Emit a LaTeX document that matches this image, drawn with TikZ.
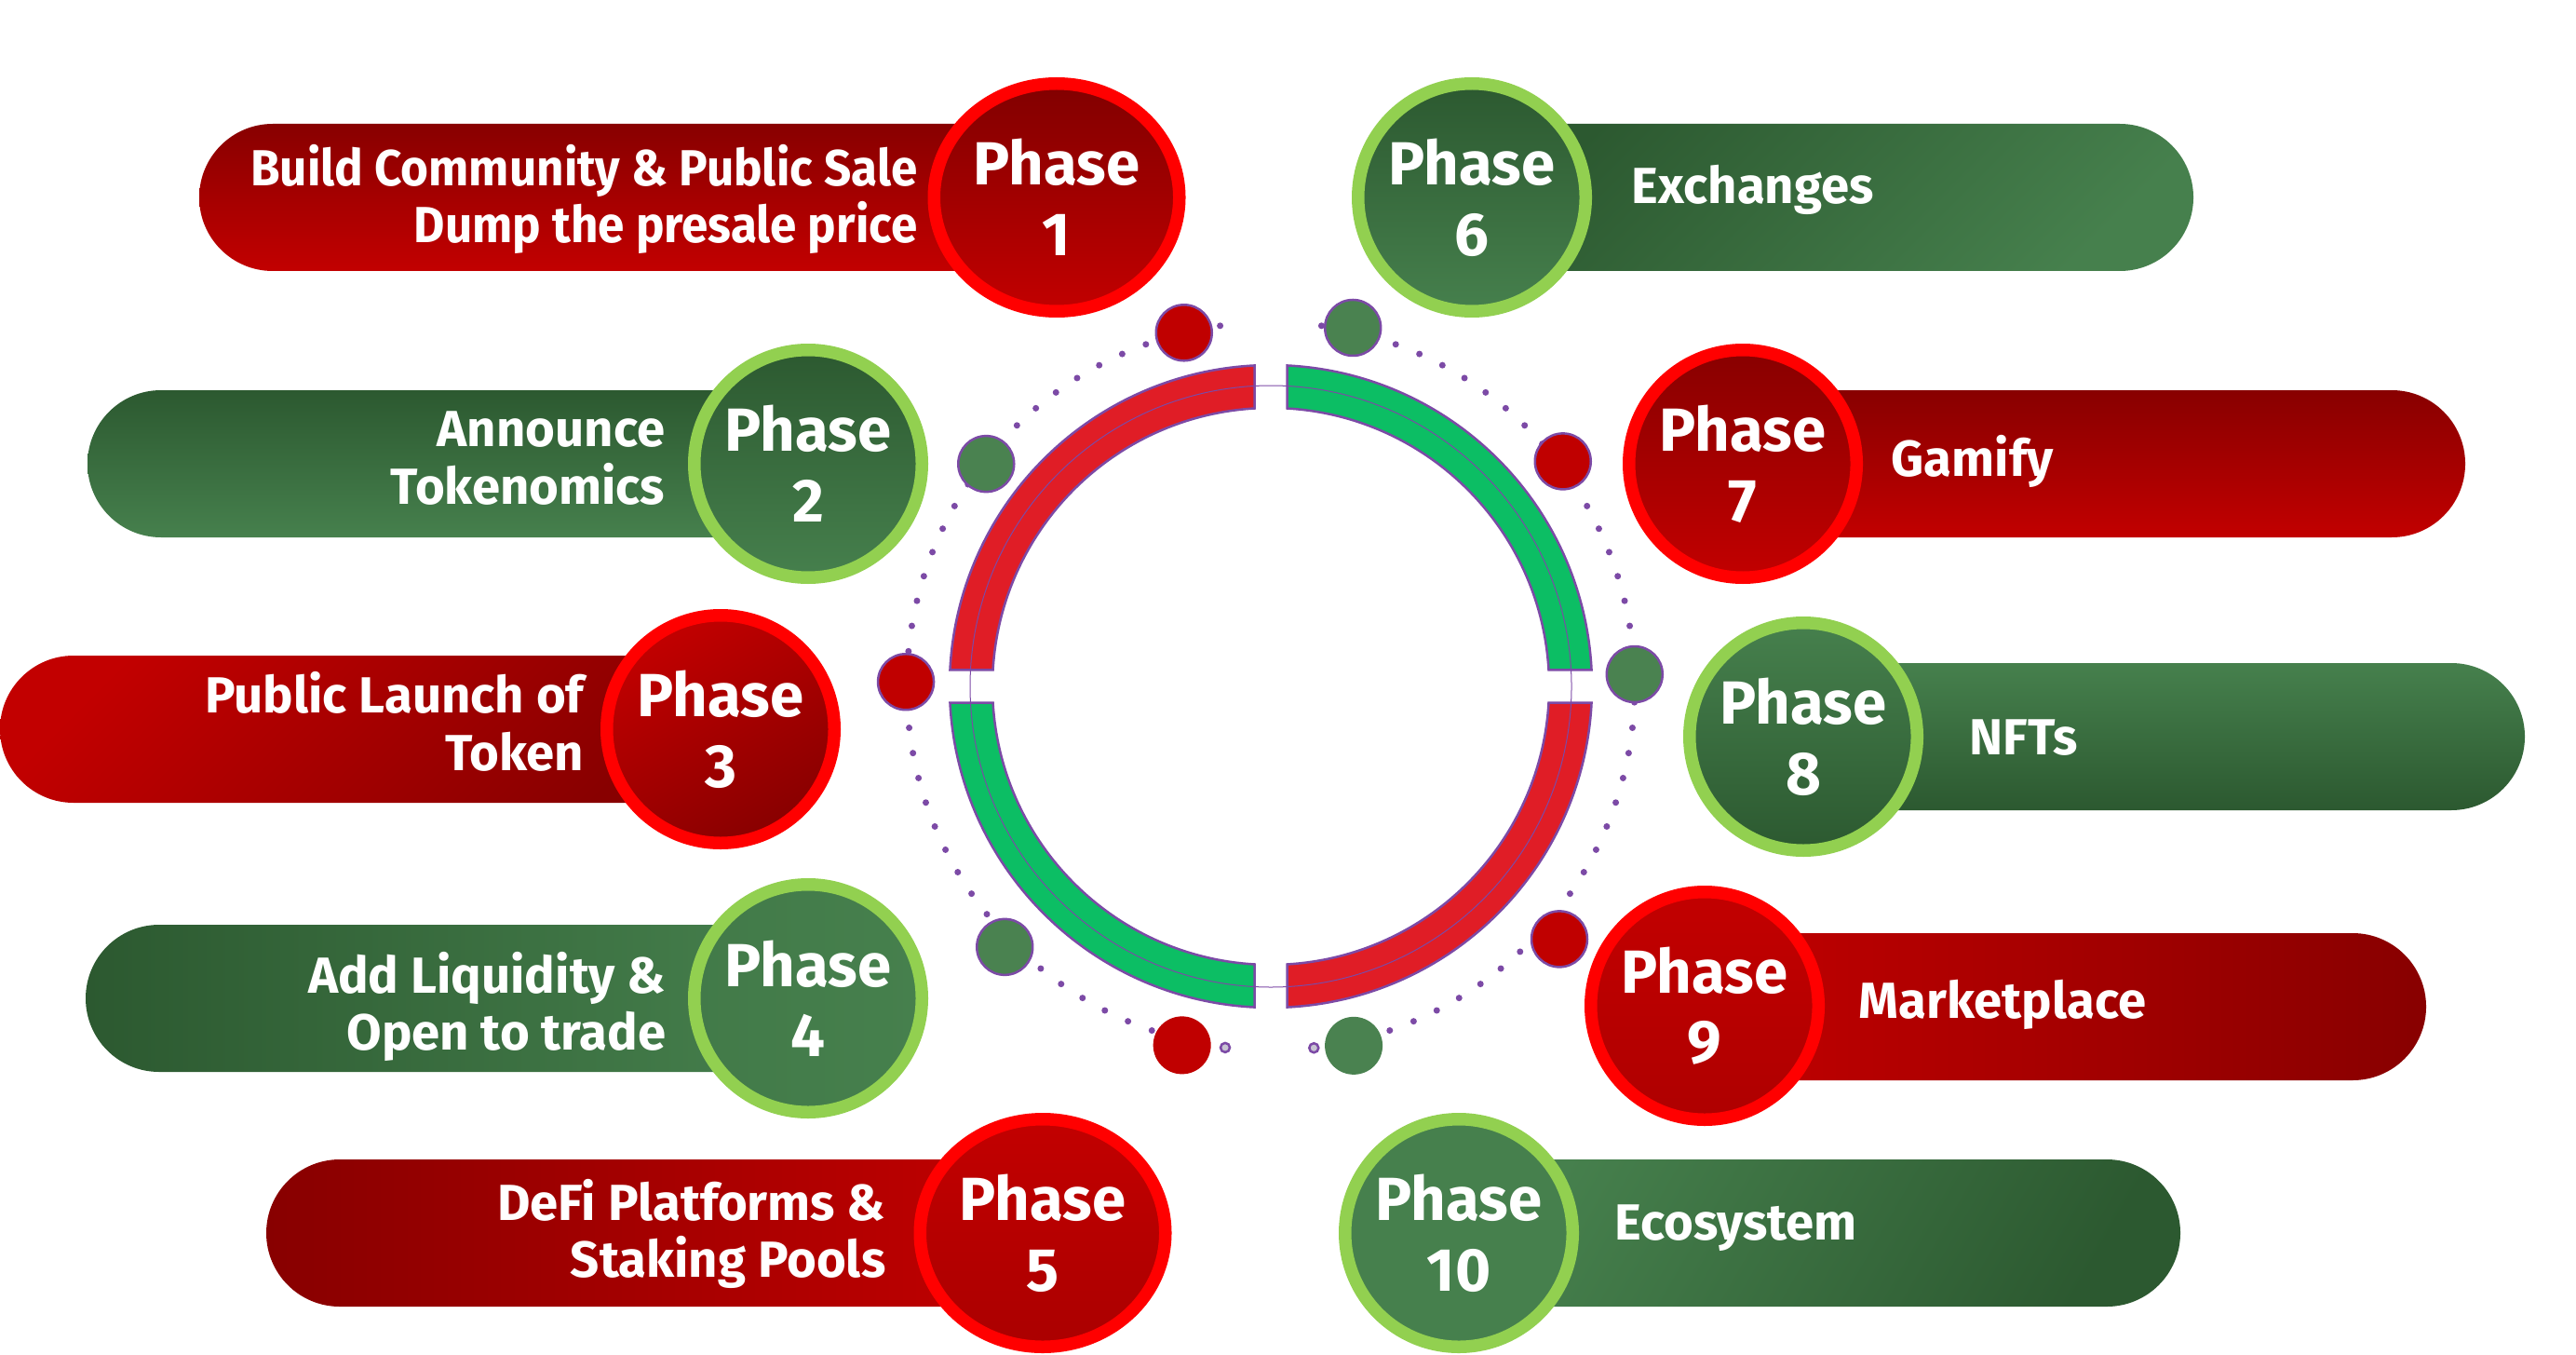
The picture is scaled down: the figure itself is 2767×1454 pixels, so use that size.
\documentclass[tikz,border=0pt]{standalone}
\usepackage{fontspec}
\setmainfont{Fira Sans}
\newfontfamily\snugfont{Fira Sans}[FakeStretch=0.94]
\usetikzlibrary{calc,shapes.geometric}
\definecolor{rdark}{RGB}{136,0,0}
\definecolor{rbright}{RGB}{194,0,0}
\definecolor{ringred}{RGB}{255,0,0}
\definecolor{gdark}{RGB}{44,89,48}
\definecolor{glight}{RGB}{70,128,77}
\definecolor{ringgreen}{RGB}{146,208,80}
\definecolor{segred}{RGB}{224,29,38}
\definecolor{seggreen}{RGB}{12,190,100}
\definecolor{lilac}{RGB}{124,74,166}
\definecolor{dotred}{RGB}{192,0,0}
\definecolor{dotgreen}{RGB}{74,130,80}
\definecolor{pale}{RGB}{200,196,210}

\begin{document}
\begin{tikzpicture}[x=0.1mm,y=0.1mm,
  phasebase/.style={inner sep=0pt,line width=1.35mm,text=white,align=center,font=\fontsize{18.6}{21.5}\selectfont\bfseries},
  redphase/.style={phasebase,circle,draw=ringred,minimum size=24.45mm},
  greenphase/.style={phasebase,circle,draw=ringgreen,minimum size=24.45mm},
  widephase/.style={phasebase,ellipse,draw=ringred,minimum width=26.35mm,minimum height=24.45mm},
  tag/.style={inner sep=0pt,text=white,font=\fontsize{15.5}{17.6}\selectfont\bfseries},
  lefttag/.style={tag,anchor=east,align=right},
  righttag/.style={tag,anchor=base west},
  pill/.style={rounded corners=7.9mm},
  ringpart/.style={draw=lilac,line width=0.25mm},
  bead/.style={draw=lilac,line width=0.25mm}]
\useasboundingbox (0,0) rectangle (2767,-1454);
\coordinate (ctr) at (1365,-737);

% left bars
\path[pill,top color=rdark,bottom color=rbright] (214,-133) rectangle (1135,-291);
\path[pill,top color=gdark,bottom color=glight] (94,-419) rectangle (868,-577);
\path[pill,top color=rbright,bottom color=rdark,shading angle=45] (0,-704) rectangle (774,-862);
\path[pill,top color=gdark,bottom color=glight,shading angle=90] (92,-993) rectangle (868,-1151);
\path[pill,top color=rdark,bottom color=rbright,shading angle=90] (286,-1245) rectangle (1120,-1403);
% right bars
\path[pill,top color=gdark,bottom color=glight,shading angle=45] (1581,-133) rectangle (2356,-291);
\path[pill,top color=rdark,bottom color=rbright] (1872,-419) rectangle (2648,-577);
\path[pill,top color=glight,bottom color=gdark] (1937,-712) rectangle (2712,-870);
\path[pill,top color=rbright,bottom color=rdark,shading angle=90] (1831,-1002) rectangle (2606,-1160);
\path[pill,top color=glight,bottom color=gdark,shading angle=60] (1567,-1245) rectangle (2342,-1403);

% centre ring
\foreach \q/\c in {0/seggreen,90/segred,180/seggreen,270/segred}
  \filldraw[ringpart,fill=\c] ($(ctr)+({\q+2.91}:345)$) arc[start angle=\q+2.91,end angle=\q+87.09,radius=345]
    -- ($(ctr)+({\q+86.64}:299)$) arc[start angle=\q+86.64,end angle=\q+3.36,radius=299] -- cycle;
\draw[lilac,line width=0.1mm] (ctr) circle[radius=323];

% dotted orbit
\foreach \i in {0,...,41} {
  \fill[lilac] ($(ctr)+({82-\i*165/41}:391)$) circle[radius=3.5];
  \fill[lilac] ($(ctr)+({98+\i*165/41}:391)$) circle[radius=3.5];
}
\foreach \a/\r/\c in {103.8/391/dotred,77.1/395/dotgreen,142/388/dotgreen,37.6/396/dotred,
    179.3/392/dotred,1.9/391/dotgreen,224.4/400/dotgreen,318.8/412/dotred}
  \filldraw[bead,fill=\c] ($(ctr)+(\a:\r)$) circle[radius=30];
\fill[dotred] ($(ctr)+(256.1:397)$) circle[radius=31];
\fill[dotgreen] ($(ctr)+(283:396)$) circle[radius=31];
\filldraw[bead,fill=pale] ($(ctr)+(262.8:391)$) circle[radius=5];
\filldraw[bead,fill=pale] ($(ctr)+(276.8:391)$) circle[radius=5];

% phase discs
\node[widephase,top color=rdark!95!black,bottom color=rbright] (p1) at (1135,-212) {Phase\\1};
\node[greenphase,top color=gdark,bottom color=glight] (p2) at (868,-498) {Phase\\2};
\node[redphase,top color=rbright,bottom color=rdark,shading angle=30] (p3) at (774,-783) {Phase\\3};
\node[greenphase,top color=glight!85!gdark,bottom color=glight,shading angle=90] (p4) at (868,-1072) {Phase\\4};
\node[widephase,top color=rbright,bottom color=rbright!88!black] (p5) at (1120,-1324) {Phase\\5};
\node[greenphase,top color=gdark,bottom color=glight] (p6) at (1581,-212) {Phase\\6};
\node[redphase,top color=rdark,bottom color=rbright] (p7) at (1872,-498) {Phase\\7};
\node[greenphase,top color=glight,bottom color=gdark] (p8) at (1937,-791) {Phase\\8};
\node[redphase,top color=rbright,bottom color=rbright!90!black] (p9) at (1831,-1080) {Phase\\9};
\node[greenphase,fill=glight] (p10) at (1567,-1324) {Phase\\10};

% texts
\node[lefttag,font=\snugfont\fontsize{15.5}{17.6}\selectfont\bfseries] (t1) at (986,-214) {Build Community \& Public Sale\\Dump the presale price};
\node[lefttag] (t2) at (715,-492) {Announce\\Tokenomics};
\node[lefttag] (t3) at (628,-775) {Public Launch of\\Token};
\node[lefttag] (t4) at (716,-1081) {Add Liquidity \&\\Open to trade};
\node[lefttag] (t5) at (952,-1325) {DeFi Platforms \&\\Staking Pools};
\node[righttag] (t6) at (1752,-219) {Exchanges};
\node[righttag] (t7) at (2031,-511) {Gamify};
\node[righttag] (t8) at (2115,-810) {NFTs};
\node[righttag] (t9) at (1996,-1093) {Marketplace};
\node[righttag] (t10) at (1734,-1331) {Ecosystem};
\end{tikzpicture}
\end{document}
